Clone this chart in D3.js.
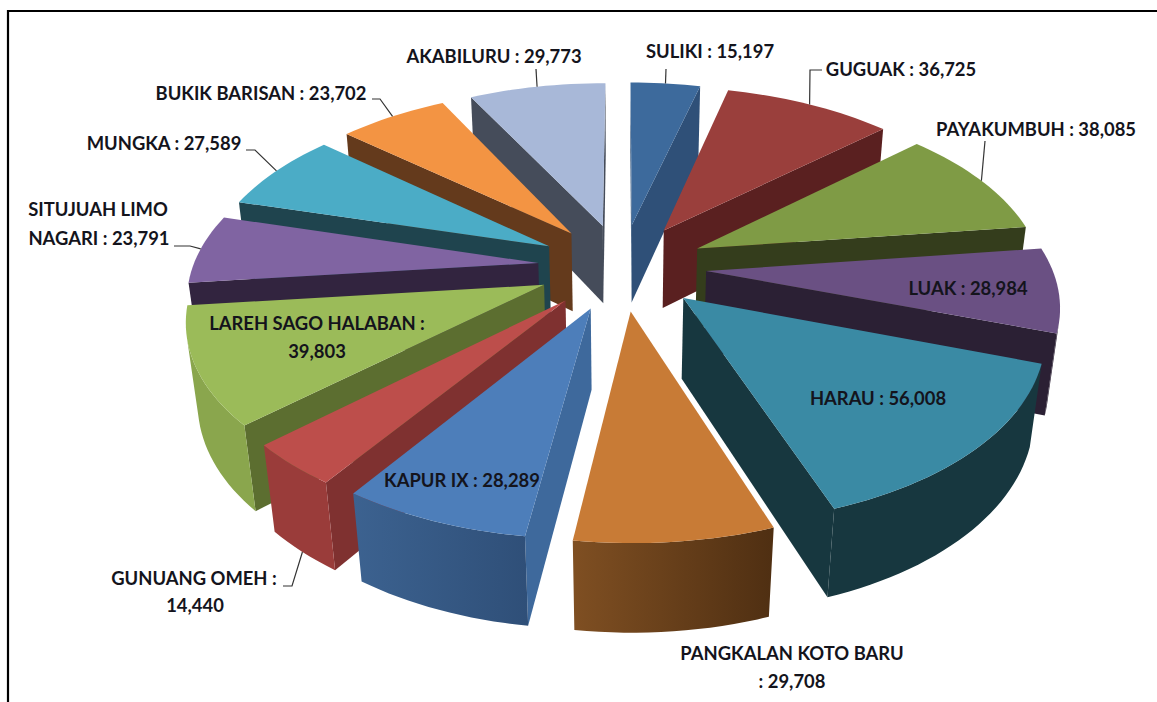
<!DOCTYPE html>
<html>
<head>
<meta charset="utf-8">
<script src="https://cdn.jsdelivr.net/npm/d3@7"></script>
<style>
  html, body { margin: 0; padding: 0; background: #fff; }
  svg { display: block; }
  text { font-family: Lato, "Open Sans", sans-serif; font-weight: 700; fill: #14141c; }
</style>
</head>
<body>
<div id="chart"></div>
<script>
"use strict";

// Population per kecamatan, in pie order (clockwise from 12 o'clock)
const names = ["SULIKI", "GUGUAK", "PAYAKUMBUH", "LUAK", "HARAU", "PANGKALAN KOTO BARU", "KAPUR IX",
    "GUNUANG OMEH", "LAREH SAGO HALABAN", "SITUJUAH LIMO NAGARI", "MUNGKA", "BUKIK BARISAN", "AKABILURU"];
const values = [15197, 36725, 38085, 28984, 56008, 29708, 28289, 14440, 39803, 23791, 27589, 23702, 29773];

// Colours, same order as names
const topColors = ["#3d6a9c", "#9a3f3c", "#7f9b45", "#6a5083", "#3a8aa4", "#c87b36", "#4d7eba",
    "#bd4e4b", "#9bbb59", "#8064a2", "#4bacc6", "#f39443", "#a8b8d8"];
const sideColors = ["#2f5078", "#5a2020", "#343d1c", "#2b2034", "#17373f", "#6a4119", "#3e699c",
    "#7f3130", "#5c6e30", "#32243f", "#1f444e", "#643a1c", "#454c5a"];
const wallLeft = ["#2f5078", "#5a2020", "#343d1c", "#2b2034", "#17373f", "#7f4f22", "#3c6290",
    "#9a3c3a", "#8aa64d", "#32243f", "#1f444e", "#643a1c", "#454c5a"];
const wallRight = ["#2f5078", "#5a2020", "#343d1c", "#2b2034", "#17373f", "#4f2f12", "#2f4f78",
    "#9a3c3a", "#8aa64d", "#32243f", "#1f444e", "#643a1c", "#454c5a"];

// Label text lines: [text, centre x, baseline y]
const labels = [
    [["SULIKI : 15,197", 710, 58]],
    [["GUGUAK : 36,725", 901, 76]],
    [["PAYAKUMBUH : 38,085", 1036, 136]],
    [["LUAK : 28,984", 968, 295]],
    [["HARAU : 56,008", 878, 405]],
    [["PANGKALAN KOTO BARU", 792, 660], [": 29,708", 792, 688]],
    [["KAPUR IX : 28,289", 462, 487]],
    [["GUNUANG OMEH :", 194, 585], ["14,440", 195, 612]],
    [["LAREH SAGO HALABAN :", 317, 330], ["39,803", 317, 358]],
    [["SITUJUAH LIMO", 98, 216], ["NAGARI : 23,791", 99, 245]],
    [["MUNGKA : 27,589", 164, 150]],
    [["BUKIK BARISAN : 23,702", 261, 100]],
    [["AKABILURU : 29,773", 494, 63]]
];

// Leader lines start here (label side) and run through an elbow to the slice
const leaders = {
    "SULIKI": [[666, 69]],
    "GUGUAK": [[822, 70], [810, 70]],
    "PAYAKUMBUH": [[985, 141]],
    "GUNUANG OMEH": [[283, 586], [292, 586]],
    "SITUJUAH LIMO NAGARI": [[174, 246], [190, 246]],
    "MUNGKA": [[246, 150], [255, 150]],
    "BUKIK BARISAN": [[372, 99], [380, 99]],
    "AKABILURU": [[536, 69]]
};

const width = 1157, height = 702;

// Pie geometry, radius = 1
const cx = 622, cy = 266.5;
const explode = 0.244, thick = 0.275;
const tilt = 31 * Math.PI / 180, camDist = 5.3, focal = 1830;
const sinT = Math.sin(tilt), cosT = Math.cos(tilt);

// Plane point (x right, y toward viewer, z down) to screen
function project(x, y, z) {
    const zc = camDist - y * cosT + z * sinT;
    return [cx + focal * x / zc, cy + focal * (y * sinT + z * cosT) / zc];
}

const svg = d3.select("#chart").append("svg")
    .attr("width", width)
    .attr("height", height);
const defs = svg.append("defs");
const line = d3.line();
const closed = pts => line(pts) + "Z";

// frame
svg.append("path")
    .attr("d", line([[8, height], [8, 11], [width, 11]]))
    .attr("fill", "none")
    .attr("stroke", "#000")
    .attr("stroke-width", 2.2);

const arcs = d3.pie().sort(null).value(d => d)(values);

const slices = arcs.map((a, i) => {
    const mid = (a.startAngle + a.endAngle) / 2;
    const ox = Math.sin(mid) * explode, oy = -Math.cos(mid) * explode;
    const steps = Math.max(2, Math.ceil((a.endAngle - a.startAngle) / 0.03));
    const rim = d3.range(steps + 1).map(k => {
        const t = a.startAngle + (a.endAngle - a.startAngle) * k / steps;
        return [ox + Math.sin(t), oy - Math.cos(t)];
    });
    return {i, name: names[i], mid, ox, oy, rim, depth: oy - Math.cos(mid) * 0.5};
});

const pieG = svg.append("g");

// Back slices first
for(const s of d3.sort(slices, d => d.depth)) {
    const g = pieG.append("g");
    const apex = [s.ox, s.oy];
    const top = p => project(p[0], p[1], 0);
    const bot = p => project(p[0], p[1], thick);
    const first = s.rim[0], last = s.rim[s.rim.length - 1];

    // radial walls, only the ones facing the camera
    for(const [p, q] of [[apex, first], [last, apex]]) {
        const quad = [top(p), top(q), bot(q), bot(p)];
        if(d3.polygonArea(quad) > 0) {
            g.append("path").attr("d", closed(quad)).attr("fill", sideColors[s.i]);
        }
    }

    // outer wall: the run of rim points whose segments face the camera
    const seen = s.rim.filter((p, k) => {
        const neighbours = [[s.rim[k - 1], p], [p, s.rim[k + 1]]].filter(e => e[0] && e[1]);
        return neighbours.some(([a, b]) => d3.polygonArea([top(a), top(b), bot(b), bot(a)]) > 0);
    });
    if(seen.length > 1) {
        const wall = [...seen.map(top), ...seen.slice().reverse().map(bot)];
        const xs = wall.map(p => p[0]);
        const id = "wall" + s.i;
        const grad = defs.append("linearGradient")
            .attr("id", id)
            .attr("gradientUnits", "userSpaceOnUse")
            .attr("x1", d3.min(xs)).attr("x2", d3.max(xs))
            .attr("y1", 0).attr("y2", 0);
        grad.append("stop").attr("offset", 0).attr("stop-color", wallLeft[s.i]);
        grad.append("stop").attr("offset", 1).attr("stop-color", wallRight[s.i]);
        g.append("path")
            .attr("d", closed(wall))
            .attr("fill", `url(#${id})`);
    }

    // top face
    g.append("path")
        .attr("d", closed([apex, ...s.rim].map(top)))
        .attr("fill", topColors[s.i]);
}

// leader lines end on the middle of the rim
for(const s of slices) {
    if(!leaders[s.name]) continue;
    const end = project(s.ox + Math.sin(s.mid), s.oy - Math.cos(s.mid), s.name === "GUNUANG OMEH" ? thick : 0);
    svg.append("path")
        .attr("d", line([...leaders[s.name], end]))
        .attr("fill", "none")
        .attr("stroke", "#333")
        .attr("stroke-width", 1.2);
}

svg.append("g")
    .selectAll("text")
    .data(labels.flat())
    .join("text")
    .attr("x", d => d[1])
    .attr("y", d => d[2])
    .attr("text-anchor", "middle")
    .attr("font-size", 18.4)
    .text(d => d[0]);
</script>
</body>
</html>
